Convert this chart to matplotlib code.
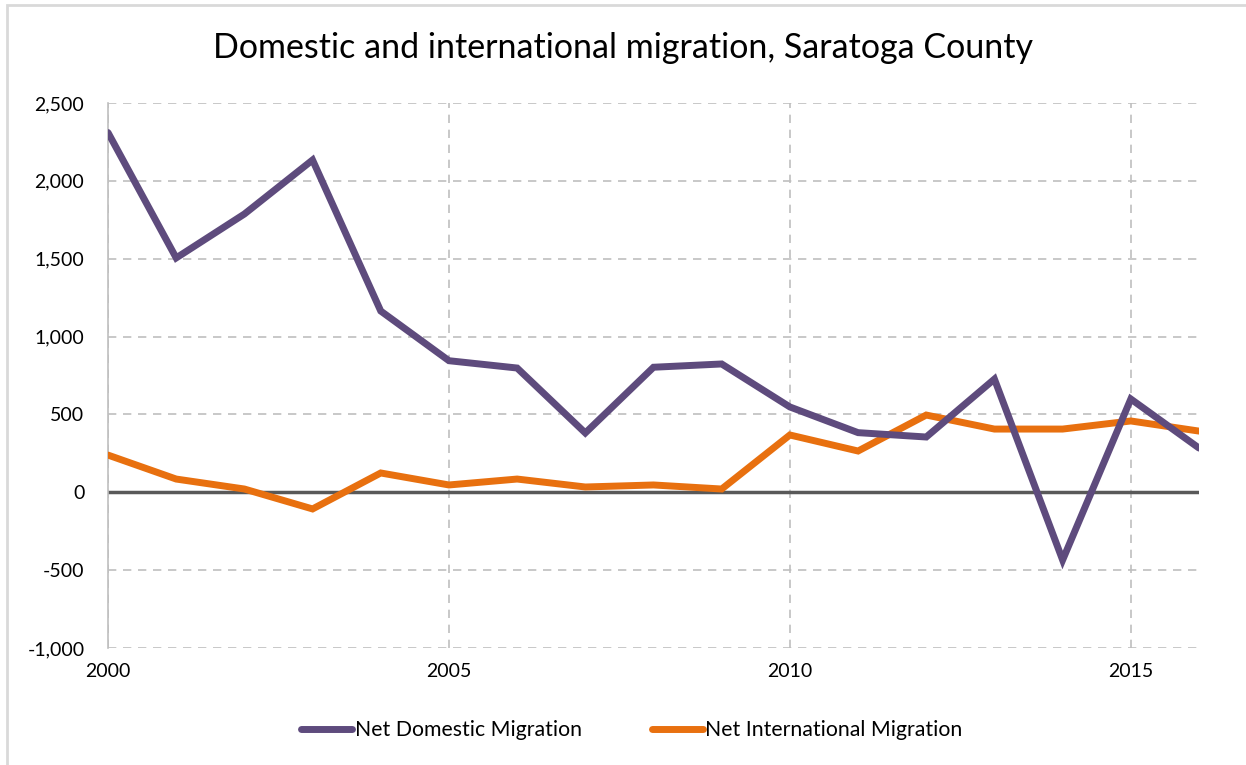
import matplotlib.pyplot as plt
from matplotlib.patches import Rectangle
from matplotlib.ticker import FuncFormatter

# Datos
years = list(range(2000, 2017))
domestic = [2310, 1505, 1787, 2134, 1164, 845, 798, 381, 803, 824, 548, 383, 355, 727, -435, 599, 284]
international = [239, 85, 21, -107, 124, 47, 85, 34, 47, 21, 368, 265, 496, 406, 406, 458, 393]

purple = '#5e4b7d'
orange = '#e8700f'

plt.rcParams['font.family'] = ['Lato', 'DejaVu Sans']

fig = plt.figure(figsize=(12.46, 7.65), dpi=100)
ax = fig.add_axes([108 / 1246, 1 - 648 / 765, 1091 / 1246, 545 / 765])

# Marco exterior del gráfico
fig.patches.append(Rectangle((7 / 1246, -0.05), 1.1, 1 - 5 / 765 + 0.05,
                             transform=fig.transFigure, fill=False,
                             edgecolor='#d9d9d9', linewidth=2, zorder=0))

ax.plot(years, domestic, color=purple, linewidth=5, label='Net Domestic Migration',
        solid_capstyle='round', solid_joinstyle='miter', zorder=4)
ax.plot(years, international, color=orange, linewidth=5, label='Net International Migration',
        solid_capstyle='round', solid_joinstyle='miter', zorder=3)

ax.axhline(0, color='#595959', linewidth=2.5, zorder=2)

ax.set_xlim(2000, 2016)
ax.set_ylim(-1000, 2500)
ax.set_yticks(range(-1000, 2501, 500))
ax.set_xticks([2000, 2005, 2010, 2015])
ax.yaxis.set_major_formatter(FuncFormatter(lambda v, p: f'{int(v):,}'))

ax.grid(True, color='#bfbfbf', linestyle=(0, (5, 4)), linewidth=1.2)
ax.set_axisbelow(True)

for side in ['top', 'right', 'bottom']:
    ax.spines[side].set_visible(False)
ax.spines['left'].set_color('#bfbfbf')
ax.spines['left'].set_linewidth(1.2)

ax.tick_params(axis='both', length=0, labelsize=14, colors='black')
ax.tick_params(axis='y', pad=17)
ax.tick_params(axis='x', pad=11)

fig.text(0.5, 1 - 48 / 765, 'Domestic and international migration, Saratoga County',
         ha='center', va='center', fontsize=24.5)

fig.legend(loc='center', bbox_to_anchor=(0.507, 1 - 730 / 765), ncol=2, frameon=False,
           fontsize=15.3, handlelength=2.4, handletextpad=0.1, columnspacing=3.3)

fig.savefig('out.png', dpi=100)
